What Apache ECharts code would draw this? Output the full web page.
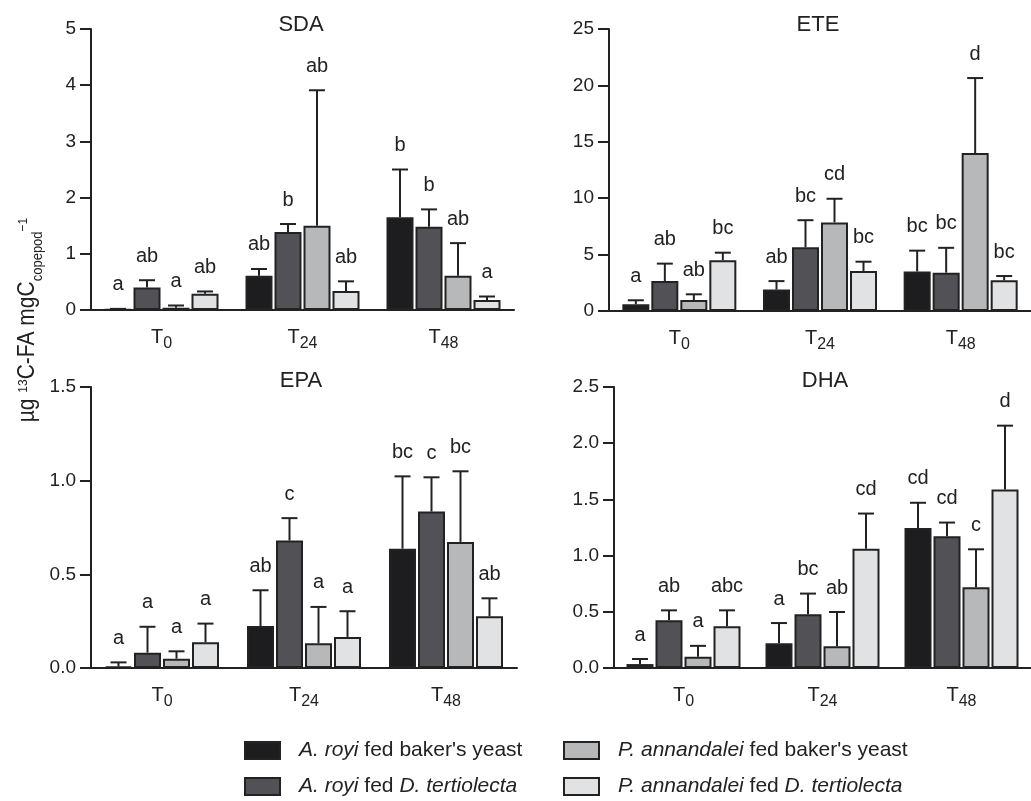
<!DOCTYPE html>
<html><head><meta charset="utf-8">
<script src="https://cdn.jsdelivr.net/npm/echarts@6/dist/echarts.min.js"></script>
<style>html,body{margin:0;padding:0;background:#fff}#c{width:1031px;height:801px}</style>
</head><body><div id="c"></div>
<script>
// ---------- DATA ----------
const categories = ['T0', 'T24', 'T48'];
const groupNames = ["A. royi fed baker's yeast", 'A. royi fed D. tertiolecta',
                    "P. annandalei fed baker's yeast", 'P. annandalei fed D. tertiolecta'];
const panelTitles = ['SDA', 'ETE', 'EPA', 'DHA'];

// mean values, one row per group (A.royi yeast, A.royi D.t., P.ann yeast, P.ann D.t.)
const sdaMean = [[0.005, 0.61, 1.65], [0.40, 1.39, 1.48], [0.04, 1.50, 0.61], [0.29, 0.34, 0.18]];
const sdaErr  = [[0.02, 0.73, 2.50], [0.53, 1.53, 1.79], [0.08, 3.91, 1.19], [0.33, 0.51, 0.24]];
const sdaLetters = [['a', 'ab', 'b'], ['ab', 'b', 'b'], ['a', 'ab', 'ab'], ['ab', 'ab', 'a']];

const eteMean = [[0.6, 1.9, 3.5], [2.65, 5.65, 3.4], [0.97, 7.85, 14.0], [4.5, 3.55, 2.72]];
const eteErr  = [[0.95, 2.65, 5.35], [4.2, 8.05, 5.6], [1.48, 9.95, 20.65], [5.17, 4.37, 3.1]];
const eteLetters = [['a', 'ab', 'bc'], ['ab', 'bc', 'bc'], ['ab', 'cd', 'd'], ['bc', 'bc', 'bc']];

const epaMean = [[0.008, 0.224, 0.637], [0.082, 0.68, 0.835], [0.05, 0.132, 0.673], [0.137, 0.166, 0.276]];
const epaErr  = [[0.03, 0.415, 1.023], [0.22, 0.80, 1.018], [0.089, 0.326, 1.05], [0.237, 0.303, 0.372]];
const epaLetters = [['a', 'ab', 'bc'], ['a', 'c', 'c'], ['a', 'a', 'bc'], ['a', 'a', 'ab']];

const dhaMean = [[0.035, 0.22, 1.246], [0.424, 0.478, 1.172], [0.10, 0.193, 0.718], [0.371, 1.062, 1.587]];
const dhaErr  = [[0.08, 0.40, 1.47], [0.513, 0.662, 1.294], [0.197, 0.498, 1.056], [0.513, 1.374, 2.156]];
const dhaLetters = [['a', 'a', 'cd'], ['ab', 'bc', 'cd'], ['a', 'ab', 'c'], ['abc', 'cd', 'd']];

const yMaxes = [5, 25, 1.5, 2.5];
const yIntervals = [1, 5, 0.5, 0.5];
const yDecimals = [0, 0, 1, 1];

// ---------- STYLE / LAYOUT ----------
const FONT = '"Liberation Sans", Arial, Helvetica, sans-serif';
const INK = '#222222';
const fills = ['#1d1d20', '#525156', '#b7b8ba', '#e1e2e3'];
const BAR_W = 27, BAR_GAP = 2 / 27, BAR_STEP = BAR_W * (1 + BAR_GAP);
const layouts = [
  { left: 91,  top: 29,  width: 423, height: 281, tx: 301, ty: 14 },
  { left: 609, top: 29,  width: 427, height: 282, tx: 818, ty: 14 },
  { left: 91,  top: 387, width: 426, height: 281, tx: 301, ty: 370 },
  { left: 614, top: 387, width: 425, height: 281, tx: 825, ty: 370 }
];
const panels = [
  { mean: sdaMean, err: sdaErr, letters: sdaLetters },
  { mean: eteMean, err: eteErr, letters: eteLetters },
  { mean: epaMean, err: epaErr, letters: epaLetters },
  { mean: dhaMean, err: dhaErr, letters: dhaLetters }
];

const grids = [], xAxes = [], yAxes = [], series = [], titles = [];
panels.forEach((p, pi) => {
  const L = layouts[pi];
  grids.push({ left: L.left, top: L.top, width: L.width, height: L.height, containLabel: false });
  titles.push({ text: panelTitles[pi], left: L.tx, top: L.ty, textAlign: 'center', padding: 0,
    textStyle: { fontSize: 22, fontWeight: 'normal', color: INK, fontFamily: FONT } });
  xAxes.push({
    type: 'category', gridIndex: pi, data: categories,
    axisLine: { lineStyle: { color: INK, width: 2 } },
    axisTick: { alignWithLabel: true, length: 11, lineStyle: { color: INK, width: 2 } },
    axisLabel: {
      margin: 12, color: INK, fontFamily: FONT,
      formatter: v => '{t|T}{s|' + v.slice(1) + '}',
      rich: {
        t: { fontSize: 20, lineHeight: 24, fontFamily: FONT, color: INK },
        s: { fontSize: 16, lineHeight: 30, verticalAlign: 'bottom', fontFamily: FONT, color: INK }
      }
    },
    splitLine: { show: false }
  });
  yAxes.push({
    type: 'value', gridIndex: pi, min: 0, max: yMaxes[pi], interval: yIntervals[pi],
    axisLine: { show: true, lineStyle: { color: INK, width: 2 } },
    axisTick: { show: true, length: 11, lineStyle: { color: INK, width: 2 } },
    axisLabel: { fontSize: 19, color: INK, fontFamily: FONT, margin: 15,
      formatter: v => v.toFixed(yDecimals[pi]) },
    splitLine: { show: false }
  });
  for (let g = 0; g < 4; g++) {
    series.push({
      type: 'bar', name: groupNames[g], xAxisIndex: pi, yAxisIndex: pi,
      data: p.mean[g], barWidth: BAR_W, barGap: (BAR_GAP * 100) + '%',
      itemStyle: { color: fills[g], borderColor: INK, borderWidth: 2 },
      z: 2, silent: true
    });
  }
  const items = [];
  for (let g = 0; g < 4; g++) for (let c = 0; c < 3; c++)
    items.push({ g, c, letter: p.letters[g][c], value: [c, p.mean[g][c], p.err[g][c]] });
  series.push({
    type: 'custom', xAxisIndex: pi, yAxisIndex: pi, z: 5, silent: true,
    encode: { x: 0, y: [1, 2] },
    data: items.map(d => d.value),
    renderItem(params, api) {
      const d = items[params.dataIndex];
      const base = api.coord([d.c, d.value[1]]);
      const top = api.coord([d.c, d.value[2]]);
      const x = base[0] + (d.g - 1.5) * BAR_STEP;
      return { type: 'group', children: [
        { type: 'line', shape: { x1: x, y1: base[1], x2: x, y2: top[1] }, style: { stroke: INK, lineWidth: 2 } },
        { type: 'line', shape: { x1: x - 8, y1: top[1], x2: x + 8, y2: top[1] }, style: { stroke: INK, lineWidth: 2 } },
        { type: 'text', x: x, y: top[1] - 24, style: { text: d.letter, fill: INK, fontSize: 20, fontFamily: FONT, align: 'center', verticalAlign: 'middle' } }
      ] };
    }
  });
});

const legendRich = {
  sp: { width: 14 },
  n: { fontSize: 21, fontFamily: FONT, color: INK },
  i: { fontSize: 21, fontFamily: FONT, color: INK, fontStyle: 'italic' }
};
function legendFmt(name) {
  const parts = name.split(' fed ');
  const right = parts[1] === "baker's yeast" ? '{n|' + parts[1] + '}' : '{i|' + parts[1] + '}';
  return '{sp| }{i|' + parts[0] + '}{n| fed }' + right;
}
const legendPos = [[244, 740], [244, 776], [563, 740], [563, 776]];
const legends = groupNames.map((nm, g) => ({
  data: [nm], left: legendPos[g][0], top: legendPos[g][1], padding: 0,
  orient: 'horizontal', selectedMode: false, icon: 'rect',
  itemWidth: 35, itemHeight: 17,
  itemStyle: { borderColor: INK, borderWidth: 2 },
  formatter: legendFmt,
  textStyle: { fontSize: 21, fontFamily: FONT, color: INK, rich: legendRich }
}));

const chart = echarts.init(document.getElementById('c'), null, { renderer: 'canvas' });
chart.setOption({
  animation: false,
  backgroundColor: '#ffffff',
  title: titles,
  grid: grids,
  xAxis: xAxes,
  yAxis: yAxes,
  legend: legends,
  series: series,
  graphic: [{
    type: 'text', x: 28, y: 320, rotation: Math.PI / 2, scaleY: 1.12,
    style: {
      text: '{n|µg }{sup|13}{n|C-FA mgC}{sub|copepod}{sup|−1}',
      align: 'center', verticalAlign: 'middle', fill: INK,
      rich: {
        n: { fontSize: 21, lineHeight: 31, fontFamily: FONT, fill: INK, color: INK },
        sup: { fontSize: 12, verticalAlign: 'top', padding: [5, 0, 0, 0], fontFamily: FONT, fill: INK, color: INK },
        sub: { fontSize: 13, verticalAlign: 'bottom', fontFamily: FONT, fill: INK, color: INK }
      }
    }
  }]
});
</script>
</body></html>
